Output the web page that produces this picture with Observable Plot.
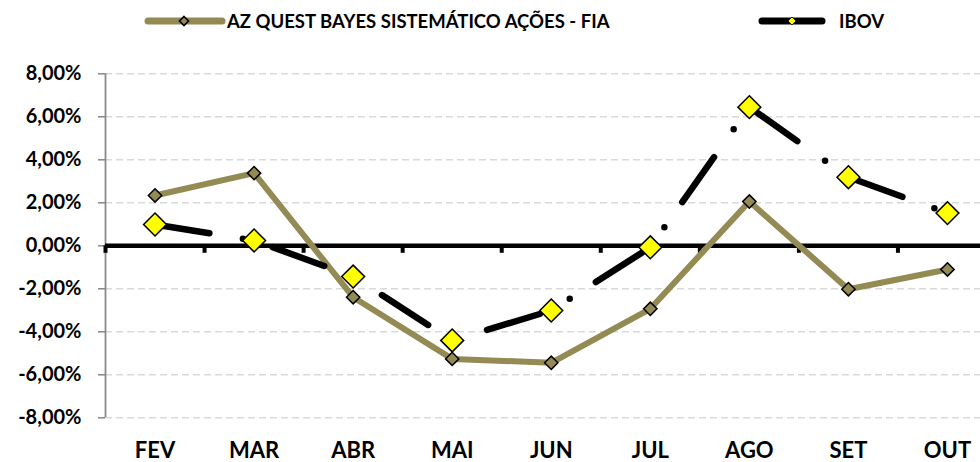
<!DOCTYPE html>
<html>
<head>
<meta charset="utf-8">
<script src="https://cdn.jsdelivr.net/npm/d3@7"></script>
<script src="https://cdn.jsdelivr.net/npm/@observablehq/plot@0.6"></script>
<style>
  html, body { margin: 0; padding: 0; background: #fff; }
  #wrap { width: 980px; height: 462px; position: relative; overflow: hidden; font-family: Lato, "Open Sans", sans-serif; }
  #legend { position: relative; width: 980px; height: 42px; }
  .lg-text { position: absolute; top: 0; height: 42px; line-height: 42px; font-weight: bold; font-size: 18.5px; color: #000; white-space: nowrap; }
  #legend svg { position: absolute; left: 0; top: 0; }
  #chart svg { display: block; }
</style>
</head>
<body>
<div id="wrap">
  <div id="legend">
    <svg width="980" height="42">
      <line x1="148" y1="21" x2="222" y2="21" stroke="#948A54" stroke-width="7" stroke-linecap="round"/>
      <path d="M184,16.5L188.5,21L184,25.5L179.5,21Z" fill="#948A54" stroke="#000" stroke-width="1.6"/>
      <line x1="762" y1="21" x2="822" y2="21" stroke="#000" stroke-width="7" stroke-linecap="round"/>
      <path d="M792,17L796,21L792,25L788,21Z" fill="#FFFF00" stroke="#000" stroke-width="0.8"/>
    </svg>
    <div class="lg-text" id="lg1" style="left:227px"></div>
    <div class="lg-text" id="lg2" style="left:839px"></div>
  </div>
  <div id="chart"></div>
</div>
<script>
const months = ["FEV", "MAR", "ABR", "MAI", "JUN", "JUL", "AGO", "SET", "OUT"];
const fundName = "AZ QUEST BAYES SISTEMÁTICO AÇÕES - FIA";
const ibovName = "IBOV";
const fundValues = [2.34, 3.38, -2.39, -5.26, -5.44, -2.93, 2.06, -2.02, -1.10];
const ibovValues = [0.99, 0.25, -1.43, -4.40, -3.01, -0.07, 6.45, 3.19, 1.52];
const yTicks = [8, 6, 4, 2, 0, -2, -4, -6, -8];
const gridValues = [8, 6, 4, 2, -2, -4, -6, -8];

document.getElementById("lg1").textContent = fundName;
document.getElementById("lg2").textContent = ibovName;

const fund = months.map((m, i) => ({i: i + 0.5, month: m, value: fundValues[i]}));
const ibov = months.map((m, i) => ({i: i + 0.5, month: m, value: ibovValues[i]}));
const centers = months.map((m, i) => i + 0.5);
const boundaries = months.map((m, i) => i);

const fmt = d => d.toFixed(2).replace(".", ",") + "%";

const chart = Plot.plot({
  width: 980,
  height: 420,
  marginLeft: 105,
  marginRight: 0,
  marginTop: 31.3,
  marginBottom: 44.7,
  style: {fontFamily: "Lato, 'Open Sans', sans-serif", background: "#fff", overflow: "visible"},
  x: {domain: [0, 9], range: [105, 996.5]},
  y: {domain: [-8, 8]},
  marks: [
    Plot.ruleY(gridValues, {stroke: "#d9d9d9", strokeWidth: 1.5, strokeDasharray: "7,4"}),
    Plot.axisY({ticks: yTicks, label: null, tickSize: 7, tickPadding: 17, tickFormat: fmt, fontSize: 20, fontWeight: "bold", stroke: "#868686", strokeWidth: 1.5, fill: "#000"}),
    Plot.ruleX([0], {y1: -8, y2: 8, stroke: "#898989", strokeWidth: 1.8}),
    Plot.ruleY([0], {stroke: "#000", strokeWidth: 4.5}),
    Plot.ruleX(boundaries, {x: d => d, y1: 0, y2: 0, insetBottom: -7.5, stroke: "#000", strokeWidth: 4}),
    Plot.axisX({ticks: centers, label: null, tickSize: 0, tickPadding: 25, tickFormat: d => months[Math.floor(d)], fontSize: 22, fontWeight: "bold", fill: "#000"}),
    Plot.line(fund, {x: "i", y: "value", stroke: "#948A54", strokeWidth: 6, strokeLinejoin: "miter", strokeLinecap: "butt"}),
    Plot.dot(fund, {x: "i", y: "value", symbol: "diamond2", r: 6, fill: "#948A54", stroke: "#000", strokeWidth: 1.5}),
    Plot.line(ibov, {x: "i", y: "value", stroke: "#000", strokeWidth: 6.5, strokeLinecap: "round", strokeLinejoin: "round", strokeDasharray: "55,34,0,31"}),
    Plot.dot(ibov, {x: "i", y: "value", symbol: "diamond2", r: 10.3, fill: "#FFFF00", stroke: "#000", strokeWidth: 1.5})
  ]
});
document.getElementById("chart").appendChild(chart);
</script>
</body>
</html>
